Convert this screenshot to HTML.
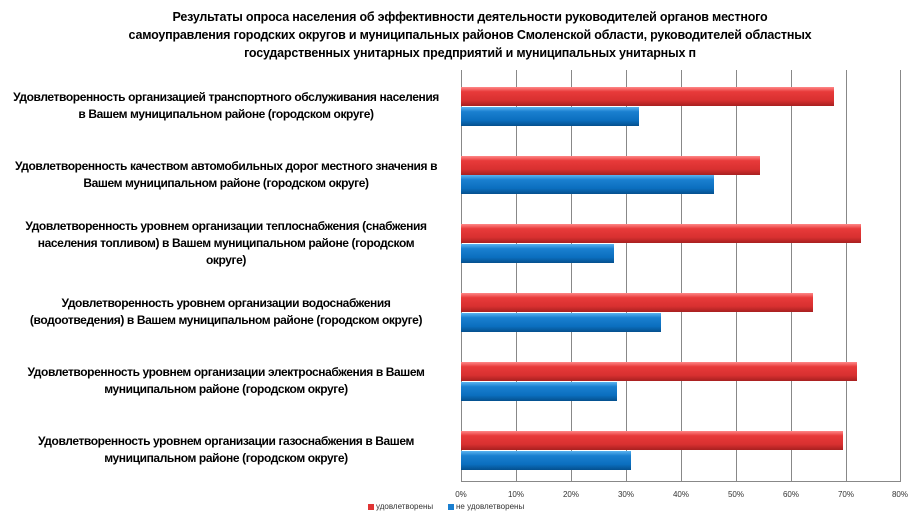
<!DOCTYPE html>
<html><head><meta charset="utf-8"><style>
body{margin:0;width:918px;height:527px;background:#fff;font-family:"Liberation Sans",sans-serif;overflow:hidden;position:relative}
.t{position:absolute;left:60px;width:820px;top:8px;text-align:center;font-weight:bold;font-size:12.5px;line-height:18px;color:#000;letter-spacing:-0.2px}
.l{position:absolute;left:0;width:452px;text-align:center;font-weight:bold;font-size:12px;line-height:17px;letter-spacing:-0.4px}
.g{position:absolute;top:70px;height:412px;width:1px;background:#888}
.r,.b{position:absolute;left:461px;height:19px}
.r{background:linear-gradient(#f88 0%,#e83a3a 25%,#d83030 70%,#a82020 100%)}
.b{background:linear-gradient(#5bb3f0 0%,#1a7fd0 25%,#0b6fbf 70%,#05508e 100%)}
.x{position:absolute;top:490px;font-size:8px;width:30px;text-align:center;color:#333}
.lg{position:absolute;top:502px;font-size:8px;color:#333}
.sq{display:inline-block;width:6px;height:6px;margin-right:2px;vertical-align:-1px}
</style></head><body>
<div class="t">Результаты опроса населения об эффективности деятельности руководителей органов местного<br>самоуправления городских округов и муниципальных районов Смоленской области, руководителей областных<br>государственных унитарных предприятий и муниципальных унитарных п</div>
<div class="g" style="left:461px"></div><div class="g" style="left:516px"></div><div class="g" style="left:571px"></div><div class="g" style="left:626px"></div><div class="g" style="left:681px"></div><div class="g" style="left:736px"></div><div class="g" style="left:791px"></div><div class="g" style="left:846px"></div><div class="g" style="left:900px"></div>
<div style="position:absolute;left:461px;top:481px;width:440px;height:1px;background:#888"></div>
<div class="r" style="top:87px;width:373px"></div><div class="b" style="top:107px;width:178px"></div>
<div class="r" style="top:156px;width:299px"></div><div class="b" style="top:175px;width:253px"></div>
<div class="r" style="top:224px;width:400px"></div><div class="b" style="top:244px;width:153px"></div>
<div class="r" style="top:293px;width:352px"></div><div class="b" style="top:313px;width:200px"></div>
<div class="r" style="top:362px;width:396px"></div><div class="b" style="top:382px;width:156px"></div>
<div class="r" style="top:431px;width:382px"></div><div class="b" style="top:451px;width:170px"></div>
<div class="l" style="top:89px">Удовлетворенность организацией транспортного обслуживания населения<br>в Вашем муниципальном районе (городском округе)</div>
<div class="l" style="top:158px">Удовлетворенность качеством автомобильных дорог местного значения в<br>Вашем муниципальном районе (городском округе)</div>
<div class="l" style="top:218px">Удовлетворенность уровнем организации теплоснабжения (снабжения<br>населения топливом) в Вашем муниципальном районе (городском<br>округе)</div>
<div class="l" style="top:295px">Удовлетворенность уровнем организации водоснабжения<br>(водоотведения) в Вашем муниципальном районе (городском округе)</div>
<div class="l" style="top:364px">Удовлетворенность уровнем организации электроснабжения в Вашем<br>муниципальном районе (городском округе)</div>
<div class="l" style="top:433px">Удовлетворенность уровнем организации газоснабжения в Вашем<br>муниципальном районе (городском округе)</div>
<div class="x" style="left:446px">0%</div><div class="x" style="left:501px">10%</div><div class="x" style="left:556px">20%</div><div class="x" style="left:611px">30%</div><div class="x" style="left:666px">40%</div><div class="x" style="left:721px">50%</div><div class="x" style="left:776px">60%</div><div class="x" style="left:831px">70%</div><div class="x" style="left:885px">80%</div>
<div class="lg" style="left:368px"><span class="sq" style="background:#e03535"></span>удовлетворены</div>
<div class="lg" style="left:448px"><span class="sq" style="background:#1a7fd0"></span>не удовлетворены</div>
</body></html>
